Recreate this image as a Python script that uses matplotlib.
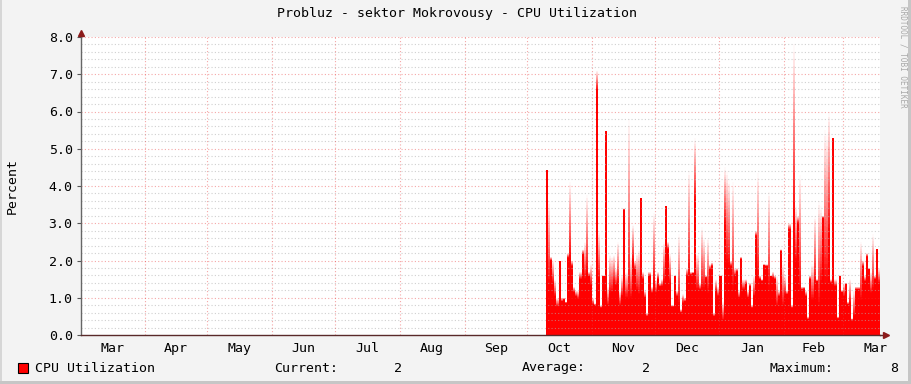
import numpy as np
import matplotlib
matplotlib.use("Agg")
import matplotlib.pyplot as plt
from matplotlib.patches import Rectangle

plt.rcParams['font.family'] = ['DejaVu Sans Mono']

# ---------------- data ----------------
title = "Probluz - sektor Mokrovousy - CPU Utilization"
ylabel = "Percent"
month_labels = ["Mar", "Apr", "May", "Jun", "Jul", "Aug", "Sep",
                "Oct", "Nov", "Dec", "Jan", "Feb", "Mar"]
month_lengths = [31, 30, 31, 30, 31, 31, 30, 31, 30, 31, 31, 28, 31]
first_day = 223          # day index (from 1 Mar) of first sample (~10 Oct)

# daily average (solid part) and daily peak (faded part), percent
avg = [4.43, 1.4, 2.0, 1.4, 1.04, 0.76, 2.0, 0.9, 0.95, 0.86,
       2.07, 2.07, 1.85, 1.15, 1.04, 0.97, 1.5, 2.16, 1.5, 1.67,
       1.58, 1.33, 0.82, 0.8, 6.57, 1.5, 0.73, 1.58, 5.47, 0.8,
       1.13, 1.15, 1.4, 1.33, 1.4, 0.8, 1.04, 3.36, 1.0, 1.0,
       1.0, 2.0, 1.76, 1.2, 1.09, 3.68, 1.5, 1.0, 0.5, 1.58,
       1.13, 1.4, 1.13, 1.5, 1.3, 1.31, 1.4, 3.47, 2.3, 1.4,
       0.76, 1.58, 1.04, 0.82, 0.6, 0.86, 0.9, 1.58, 1.58, 1.62,
       1.65, 3.58, 1.22, 1.22, 1.22, 1.22, 1.54, 1.13, 1.76, 1.85,
       0.5, 1.18, 1.04, 1.58, 0.4, 2.96, 1.93, 1.88, 1.85, 1.22,
       1.6, 1.7, 1.0, 2.04, 1.22, 1.37, 1.0, 1.3, 0.73, 1.04,
       2.66, 1.5, 1.5, 1.45, 1.88, 1.85, 1.22, 1.58, 1.53, 1.5,
       0.78, 1.04, 2.25, 0.78, 1.09, 1.09, 2.83, 0.73, 3.2, 2.0,
       3.0, 1.2, 1.22, 1.24, 1.04, 0.42, 1.5, 0.95, 1.4, 1.44,
       0.78, 1.4, 3.14, 1.4, 1.4, 2.74, 1.4, 5.28, 1.31, 0.44,
       1.58, 1.15, 1.04, 1.36, 0.82, 0.86, 0.4, 0.5, 1.22, 1.22,
       0.95, 1.84, 1.44, 2.1, 1.76, 1.13, 1.22, 1.5, 2.3, 1.4]
peak = [4.43, 3.6, 2.1, 2.0, 1.5, 1.0, 2.0, 1.0, 1.0, 0.9,
        2.2, 4.1, 2.0, 1.3, 1.2, 1.2, 1.7, 2.3, 2.5, 3.76,
        1.7, 1.9, 1.0, 0.85, 7.1, 2.8, 0.8, 1.6, 5.47, 1.3,
        2.16, 2.1, 2.16, 1.8, 2.5, 1.2, 1.6, 3.4, 1.7, 5.8,
        2.1, 2.96, 2.0, 2.2, 2.3, 3.68, 1.7, 1.2, 0.6, 1.7,
        1.3, 3.27, 1.5, 1.7, 1.4, 1.5, 2.5, 3.47, 2.5, 2.2,
        0.8, 1.6, 1.2, 2.7, 0.7, 1.1, 1.0, 1.8, 4.4, 1.7,
        1.7, 5.28, 2.2, 1.4, 2.9, 2.6, 1.6, 2.6, 1.9, 1.95,
        0.6, 1.5, 1.3, 1.6, 0.9, 4.5, 4.4, 4.16, 2.0, 4.1,
        1.8, 1.8, 1.2, 2.1, 1.5, 1.5, 1.2, 1.4, 0.8, 1.6,
        2.8, 4.34, 1.6, 1.5, 1.9, 1.9, 3.85, 1.6, 1.7, 1.6,
        1.58, 1.2, 2.3, 1.93, 1.6, 1.2, 3.0, 0.8, 7.8, 3.5,
        3.2, 4.3, 1.3, 1.3, 1.2, 0.5, 1.6, 1.9, 3.2, 1.5,
        3.6, 3.45, 3.2, 5.5, 5.4, 6.0, 1.5, 5.28, 1.5, 0.5,
        1.6, 1.2, 1.4, 1.4, 0.9, 1.5, 0.45, 1.2, 1.3, 1.3,
        2.5, 2.0, 1.6, 2.2, 1.8, 1.7, 2.7, 1.6, 2.3, 1.8]

legend_name = "CPU Utilization"
stat_names = ["Current:", "Average:", "Maximum:"]
stat_values = ["2", "2", "8"]

# ---------------- figure ----------------
W, H = 911, 384
fig = plt.figure(figsize=(W / 100, H / 100), dpi=100, facecolor='#f3f3f3')

# 3D-ish frame
fig.patches.append(Rectangle((0, 0), 2 / W, 1, transform=fig.transFigure,
                             facecolor='#d6d6d6', edgecolor='none'))
fig.patches.append(Rectangle((1 - 3 / W, 0), 3 / W, 1, transform=fig.transFigure,
                             facecolor='#c6c6c6', edgecolor='none'))
fig.patches.append(Rectangle((0, 0), 1, 3 / H, transform=fig.transFigure,
                             facecolor='#c6c6c6', edgecolor='none'))

L, R, T, B = 81, 880, 37, 335
ax = fig.add_axes([L / W, 1 - B / H, (R - L) / W, (B - T) / H])
ax.set_facecolor('white')

x = np.arange(first_day, first_day + len(avg))
avg_a = np.array(avg)
peak_a = np.array(peak)
red = '#ff0000'

ax.bar(x, avg_a, width=1.0, align='edge', color=red, linewidth=0,
       antialiased=False, zorder=2)
K = 24
span = np.clip(peak_a - avg_a, 0, None)
for k in range(K):
    ax.bar(x, span / K, bottom=avg_a + span * k / K, width=1.0, align='edge',
           color=red, alpha=1 - (k + 0.5) / K, linewidth=0,
           antialiased=False, zorder=2)

# axes limits
ax.set_xlim(0.5, 382.8)
ax.set_ylim(0, 8)

month_starts = np.concatenate([[0], np.cumsum(month_lengths)[:-1]])
month_mids = month_starts + np.array(month_lengths) / 2.0

# grid
for yv in np.arange(0, 8.01, 0.2):
    if abs(yv - round(yv)) < 1e-6:
        continue
    ax.axhline(yv, color='#b0b0b0', alpha=0.6, lw=0.8,
               linestyle=(0, (1, 2)), zorder=3)
for yv in range(1, 9):
    ax.axhline(yv, color='#e93b3b', alpha=0.45, lw=0.8,
               linestyle=(0, (1, 2)), zorder=3)
for xv in month_starts[1:]:
    ax.axvline(xv, color='#e93b3b', alpha=0.45, lw=0.8,
               linestyle=(0, (1, 2)), zorder=3)

ax.set_yticks(range(0, 9))
ax.set_yticklabels([f"{v:.1f}" for v in range(0, 9)], fontsize=9.5)
ax.set_xticks(month_mids)
ax.set_xticklabels(month_labels, fontsize=9.5)
ax.tick_params(axis='x', length=0, pad=5)
ax.tick_params(axis='y', length=3, width=0.8, color='#555555', pad=3)

for s in ['top', 'right']:
    ax.spines[s].set_visible(False)
ax.spines['left'].set_color('#666666')
ax.spines['left'].set_linewidth(1.0)
ax.spines['bottom'].set_color('#5a2a2a')
ax.spines['bottom'].set_linewidth(1.0)
ax.spines['left'].set_zorder(4)
ax.spines['bottom'].set_zorder(4)

# arrows
ax.plot([0], [1.012], marker='^', color='#8b1a1a', markersize=4,
        transform=ax.transAxes, clip_on=False, zorder=5)
ax.plot([1.007], [0], marker='>', color='#8b1a1a', markersize=4,
        transform=ax.transAxes, clip_on=False, zorder=5)
ax.plot([0, 0], [1.0, 1.012], color='#666666', lw=1.0,
        transform=ax.transAxes, clip_on=False, zorder=4)
ax.plot([1.0, 1.007], [0, 0], color='#5a2a2a', lw=1.0,
        transform=ax.transAxes, clip_on=False, zorder=4)

# title, labels
fig.text(457 / W, 1 - 14 / H, title, ha='center', va='center', fontsize=9.5)
fig.text(12 / W, 1 - 186 / H, ylabel, ha='center', va='center',
         rotation=90, fontsize=9.5)
fig.text(903 / W, 1 - 6 / H, "RRDTOOL / TOBI OETIKER", ha='center', va='top',
         rotation=270, fontsize=5.5, color='#a8a8a8')

# legend line
ly = 1 - 368 / H
fig.patches.append(Rectangle((18 / W, 1 - 373 / H), 10 / W, 10 / H,
                             transform=fig.transFigure, facecolor=red,
                             edgecolor='black', linewidth=0.8))
fig.text(35 / W, ly, legend_name, ha='left', va='center', fontsize=9.5)
name_x = [274, 522, 769]
val_x = [402, 650, 898]
for nx, vx, n, v in zip(name_x, val_x, stat_names, stat_values):
    fig.text(nx / W, ly, n, ha='left', va='center', fontsize=9.5)
    fig.text(vx / W, ly, v, ha='right', va='center', fontsize=9.5)

fig.savefig("out.png", dpi=100, facecolor=fig.get_facecolor())
